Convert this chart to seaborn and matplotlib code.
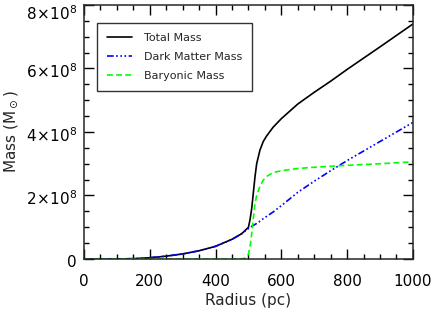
import numpy as np
import pandas as pd
import matplotlib
matplotlib.use('Agg')
import matplotlib.pyplot as plt
import matplotlib.transforms as mtrans
import seaborn as sns
from matplotlib.ticker import MultipleLocator, FuncFormatter

# Values (mass in units of 1e8 solar masses)
radius = [0, 50, 100, 150, 200, 250, 300, 350, 400, 450, 480, 490, 500, 505, 510,
          515, 520, 525, 535, 545, 555, 575, 600, 650, 700, 750, 800, 900, 1000]
total_mass = [0, 0.0, 0.002, 0.01, 0.04, 0.09, 0.16, 0.26, 0.4, 0.62, 0.8, 0.9, 1.0,
              1.25, 1.6, 2.1, 2.6, 3.0, 3.43, 3.7, 3.87, 4.15, 4.42, 4.88, 5.25,
              5.6, 5.97, 6.68, 7.4]
dm_mass = [0, 0.0, 0.002, 0.01, 0.04, 0.09, 0.16, 0.26, 0.4, 0.62, 0.8, 0.88, 0.96,
           1.0, 1.03, 1.06, 1.09, 1.12, 1.19, 1.27, 1.34, 1.48, 1.68, 2.1, 2.45,
           2.78, 3.1, 3.7, 4.3]
baryon_mass = [0, 0, 0, 0, 0, 0, 0, 0, 0, 0.0, 0.005, 0.03, 0.15, 0.4, 0.8, 1.3,
               1.75, 2.0, 2.3, 2.48, 2.6, 2.72, 2.78, 2.85, 2.89, 2.92, 2.95, 3.0, 3.06]

df = pd.DataFrame({'radius': radius,
                   'total': np.array(total_mass) * 1e8,
                   'dm': np.array(dm_mass) * 1e8,
                   'baryon': np.array(baryon_mass) * 1e8})

sns.set_style('ticks')
plt.rcParams['font.family'] = ['DejaVu Sans']

fig = plt.figure(figsize=(4.36, 3.10), dpi=100)
ax = fig.add_axes([0.1927, 0.1645, 0.7543, 0.8195])

sns.lineplot(data=df, x='radius', y='total', color='black', lw=1.2,
             label='Total Mass', ax=ax)
sns.lineplot(data=df, x='radius', y='dm', color='#0000ff', lw=1.2,
             label='Dark Matter Mass', ax=ax)
sns.lineplot(data=df, x='radius', y='baryon', color='#00ff00', lw=1.2,
             label='Baryonic Mass', ax=ax)
ax.lines[1].set_dashes([4, 1.5, 1, 1.5, 1, 1.5, 1, 1.5])
ax.lines[2].set_dashes([3.5, 2])

ax.set_xlim(0, 1000)
ax.set_ylim(0, 8e8)
ax.xaxis.set_major_locator(MultipleLocator(200))
ax.xaxis.set_minor_locator(MultipleLocator(50))
ax.yaxis.set_major_locator(MultipleLocator(2e8))
ax.yaxis.set_minor_locator(MultipleLocator(0.5e8))


def ylab(v, pos):
    n = int(round(v / 1e8))
    return '0' if n == 0 else r'$%d\!\times\!10^{8}$' % n


ax.yaxis.set_major_formatter(FuncFormatter(ylab))
ax.tick_params(which='both', direction='in', top=True, right=True,
               labelsize=11, width=1, colors='black')
ax.tick_params(which='major', length=7)
ax.tick_params(axis='x', which='major', pad=11)
ax.tick_params(axis='y', which='major', pad=5)
ax.tick_params(which='minor', length=3.5)
for s in ax.spines.values():
    s.set_linewidth(1.1)

ax.set_xlabel('Radius (pc)', fontsize=11, labelpad=2.5)
ax.set_ylabel(r'Mass (M$_\odot$)', fontsize=11, labelpad=4)

leg = ax.legend(loc='upper left', bbox_to_anchor=(0.04, 0.929), fontsize=8,
                frameon=True, fancybox=False, handlelength=2.2,
                borderpad=0.9, labelspacing=0.8, handletextpad=1.1,
                borderaxespad=0)
leg.get_frame().set_edgecolor('black')
leg.get_frame().set_linewidth(1.0)

# nudge y tick labels down a little, the top one more so it stays inside
fig.canvas.draw()
for tick in ax.yaxis.get_major_ticks():
    v = tick.get_loc()
    dy = -7 if v >= 7.9e8 else -2
    tick.label1.set_transform(tick.label1.get_transform() +
                              mtrans.ScaledTranslation(0, dy / 100, fig.dpi_scale_trans))

fig.savefig('out.png', dpi=100)
